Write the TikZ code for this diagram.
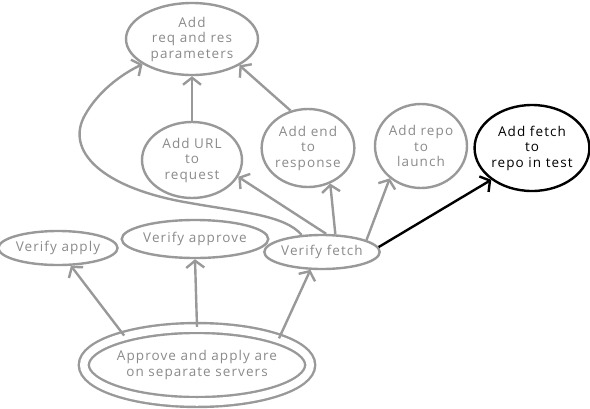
\documentclass[tikz,border=0pt]{standalone}
\usepackage{fontspec}
\setmainfont{Open Sans}[LetterSpace=8]
\usetikzlibrary{shapes.geometric,arrows.meta}
\definecolor{ln}{HTML}{999999}
\definecolor{tx}{HTML}{8A8A8A}
\tikzset{
  ell/.style={ellipse, draw=ln, line width=2.4pt, inner sep=0pt, align=center,
    text=tx, font=\fontsize{13.5}{15.5}\selectfont},
  blk/.style={draw=black, text=black},
  arr/.style={draw=ln, line width=2.4pt, -{Straight Barb[length=7pt,width=18pt,line width=2.4pt]}},
  barr/.style={arr, draw=black},
}
\begin{document}
\begin{tikzpicture}[x=1pt,y=-1pt]
\useasboundingbox (0,0) rectangle (590,408);
\node[ell, minimum width=132pt, minimum height=72pt] (top) at (192,39) {Add\\req and res\\parameters};
\node[ell, minimum width=100pt, minimum height=76pt] (url) at (192,160) {Add URL\\to\\request};
\node[ell, minimum width=90pt, minimum height=78pt] (end) at (308,148) {Add end\\to\\response};
\node[ell, minimum width=92pt, minimum height=84pt] (repo) at (421,146) {Add repo\\to\\launch};
\node[ell, blk, minimum width=108pt, minimum height=86pt] (fetch) at (532,148) {Add fetch\\to\\repo in test};
\node[ell, minimum width=110pt, minimum height=34pt] (vapply) at (58,248) {Verify apply};
\node[ell, minimum width=130pt, minimum height=38pt] (vapprove) at (195,239) {Verify approve};
\node[ell, minimum width=112pt, minimum height=34pt] (vfetch) at (322,252) {Verify fetch};
\node[ell, double, double distance=7.5pt, minimum width=204pt, minimum height=74pt] (base) at (197,365) {Approve and apply are\\on separate servers};

\draw[arr] (base.158) -- (vapply.306);
\draw[arr] (base.90) -- (vapprove.270);
\draw[arr] (base.18) -- (vfetch.237);
\draw[arr] (vfetch.53) -- (end.302);
\draw[arr] (vfetch.15) -- (repo.226);
\draw[barr] (vfetch.5) -- (fetch.218);
\draw[arr] (vfetch.77) -- (url.340);
\draw[arr] (vfetch.140) .. controls (285,215) and (240,212) .. (190,203)
  .. controls (100,188) and (65,150) .. (85,115)
  .. controls (98,92) and (120,75) .. (top.207);
\draw[arr] (url.90) -- (top.270);
\draw[arr] (end.115) -- (top.331);
\end{tikzpicture}
\end{document}
